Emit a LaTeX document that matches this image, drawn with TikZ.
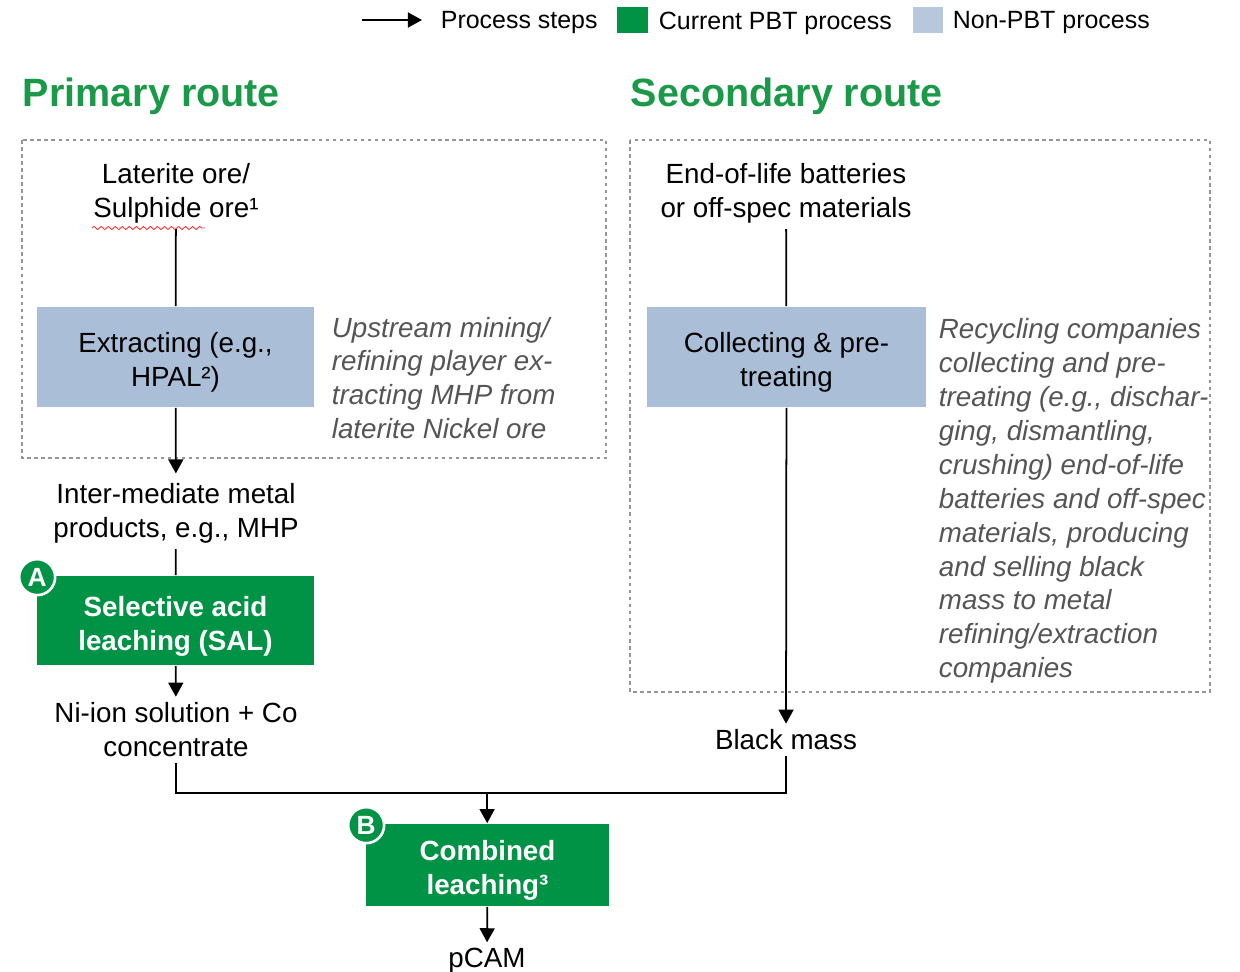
\documentclass[tikz,border=0pt]{standalone}
\usepackage{fontspec}
\setmainfont{Liberation Sans}
\usetikzlibrary{arrows.meta,positioning,decorations.pathmorphing}
\definecolor{pbtgreen}{RGB}{0,146,69}
\definecolor{titlegreen}{RGB}{26,154,72}
\definecolor{nonpbtblue}{RGB}{170,190,215}
\definecolor{notegray}{RGB}{85,85,85}
\definecolor{framegray}{RGB}{150,150,150}
% pushes the first line of a box label down a little
\newcommand{\boxgap}{\rule{0pt}{18pt}}

\begin{document}
\begin{tikzpicture}[
    x=0.02cm, y=-0.02cm,
    >={Triangle[length=8pt,width=8.5pt]},
    line width=1pt,
    body/.style={font=\fontsize{15.8}{19.3}\selectfont, align=center, inner sep=3pt},
    legend/.style={font=\fontsize{14.2}{17}\selectfont, anchor=west, inner sep=0},
    note/.style={font=\fontsize{15.8}{19.3}\selectfont\itshape, text=notegray, align=left, anchor=west, inner sep=0},
    routetitle/.style={font=\fontsize{22.5}{27}\selectfont\bfseries, text=titlegreen, anchor=west, inner sep=0},
    nonpbt/.style={body, fill=nonpbtblue, minimum height=2cm},
    pbt/.style={body, fill=pbtgreen, text=white, font=\fontsize{15.8}{19.3}\selectfont\bfseries},
    badge/.style={circle, fill=pbtgreen, draw=white, line width=1.5pt, text=white, minimum size=0.72cm, inner sep=0, font=\fontsize{15}{15}\selectfont\bfseries},
    routebox/.style={draw=framegray, line width=0.6pt, dash pattern=on 2pt off 2pt}
]
\useasboundingbox (0,0) rectangle (1240,971);

% legend
\coordinate (legfrom) at (362,20);
\coordinate (legto) at (422,20);
\draw[->] (legfrom) -- (legto);
\node[legend] (legsteps) at (440,23) {Process steps};
\node[fill=pbtgreen, minimum width=0.62cm, minimum height=0.52cm, inner sep=0] (legpbt) at (632,20) {};
\node[legend] (legpbttext) at (658,23) {Current PBT process};
\node[fill=nonpbtblue!85!white, minimum width=0.6cm, minimum height=0.52cm, inner sep=0] (legnon) at (928,20) {};
\node[legend] (legnontext) at (952,23) {Non-PBT process};

% route titles and frames
\node[routetitle] (primtitle) at (22,96) {Primary route};
\node[routetitle] (sectitle) at (630,96) {Secondary route};
\draw[routebox] (22,140) rectangle (606,458);
\draw[routebox] (630,140) rectangle (1210,692);

% primary route
\node[body] (ore) at (176,193) {Laterite ore/\\Sulphide ore¹};
\draw[red!80, line width=0.5pt, decorate, decoration={snake, amplitude=0.9pt, segment length=4pt}] (92,228) -- (205,228);
\node[nonpbt, minimum width=5.54cm] (extract) at (175.5,357) {\boxgap Extracting (e.g.,\\HPAL²)};
\node[note] (extractnote) at (331,378) {Upstream mining/\\refining player ex-\\tracting MHP from\\laterite Nickel ore};
\node[body] (inter) at (176,513) {Inter-mediate metal\\products, e.g., MHP};
\node[pbt, minimum width=5.54cm, minimum height=1.78cm] (sal) at (175.5,620.5) {\boxgap Selective acid\\leaching (SAL)};
\node[badge] (badgea) at ([shift={(1,2)}]sal.north west) {A};
\node[body] (ni) at (176,730) {Ni-ion solution + Co\\concentrate};

% secondary route
\node[body] (eol) at (786,193) {End-of-life batteries\\or off-spec materials};
\node[nonpbt, minimum width=5.58cm] (collect) at (786.5,357) {\boxgap Collecting \& pre-\\treating};
\node[note] (collectnote) at (938,501) {Recycling companies\\collecting and pre-\\treating (e.g., dischar-\\ging, dismantling,\\crushing) end-of-life\\batteries and off-spec\\materials, producing\\and selling black\\mass to metal\\refining/extraction\\companies};
\node[body] (black) at (786,740) {Black mass};

% combined step
\coordinate (join) at (487,793);
\node[pbt, minimum width=4.86cm, minimum height=1.64cm] (comb) at (487.5,865) {\boxgap Combined\\leaching³};
\node[badge] (badgeb) at ([shift={(1,2)}]comb.north west) {B};
\node[body] (pcam) at (487,961) {pCAM};

% process steps
\draw (ore) -- (extract);
\draw[->, shorten >=2pt] (extract) -- (inter);
\draw (inter) -- (sal);
\draw[->] (sal) -- (ni);
\draw (eol) -- (collect);
\draw[->] (collect) -- (black);
\draw (ni.south) |- (join);
\draw (black.south) |- (join);
\draw[->] (join) -- (comb);
\draw[->] (comb) -- (pcam);
\end{tikzpicture}
\end{document}
